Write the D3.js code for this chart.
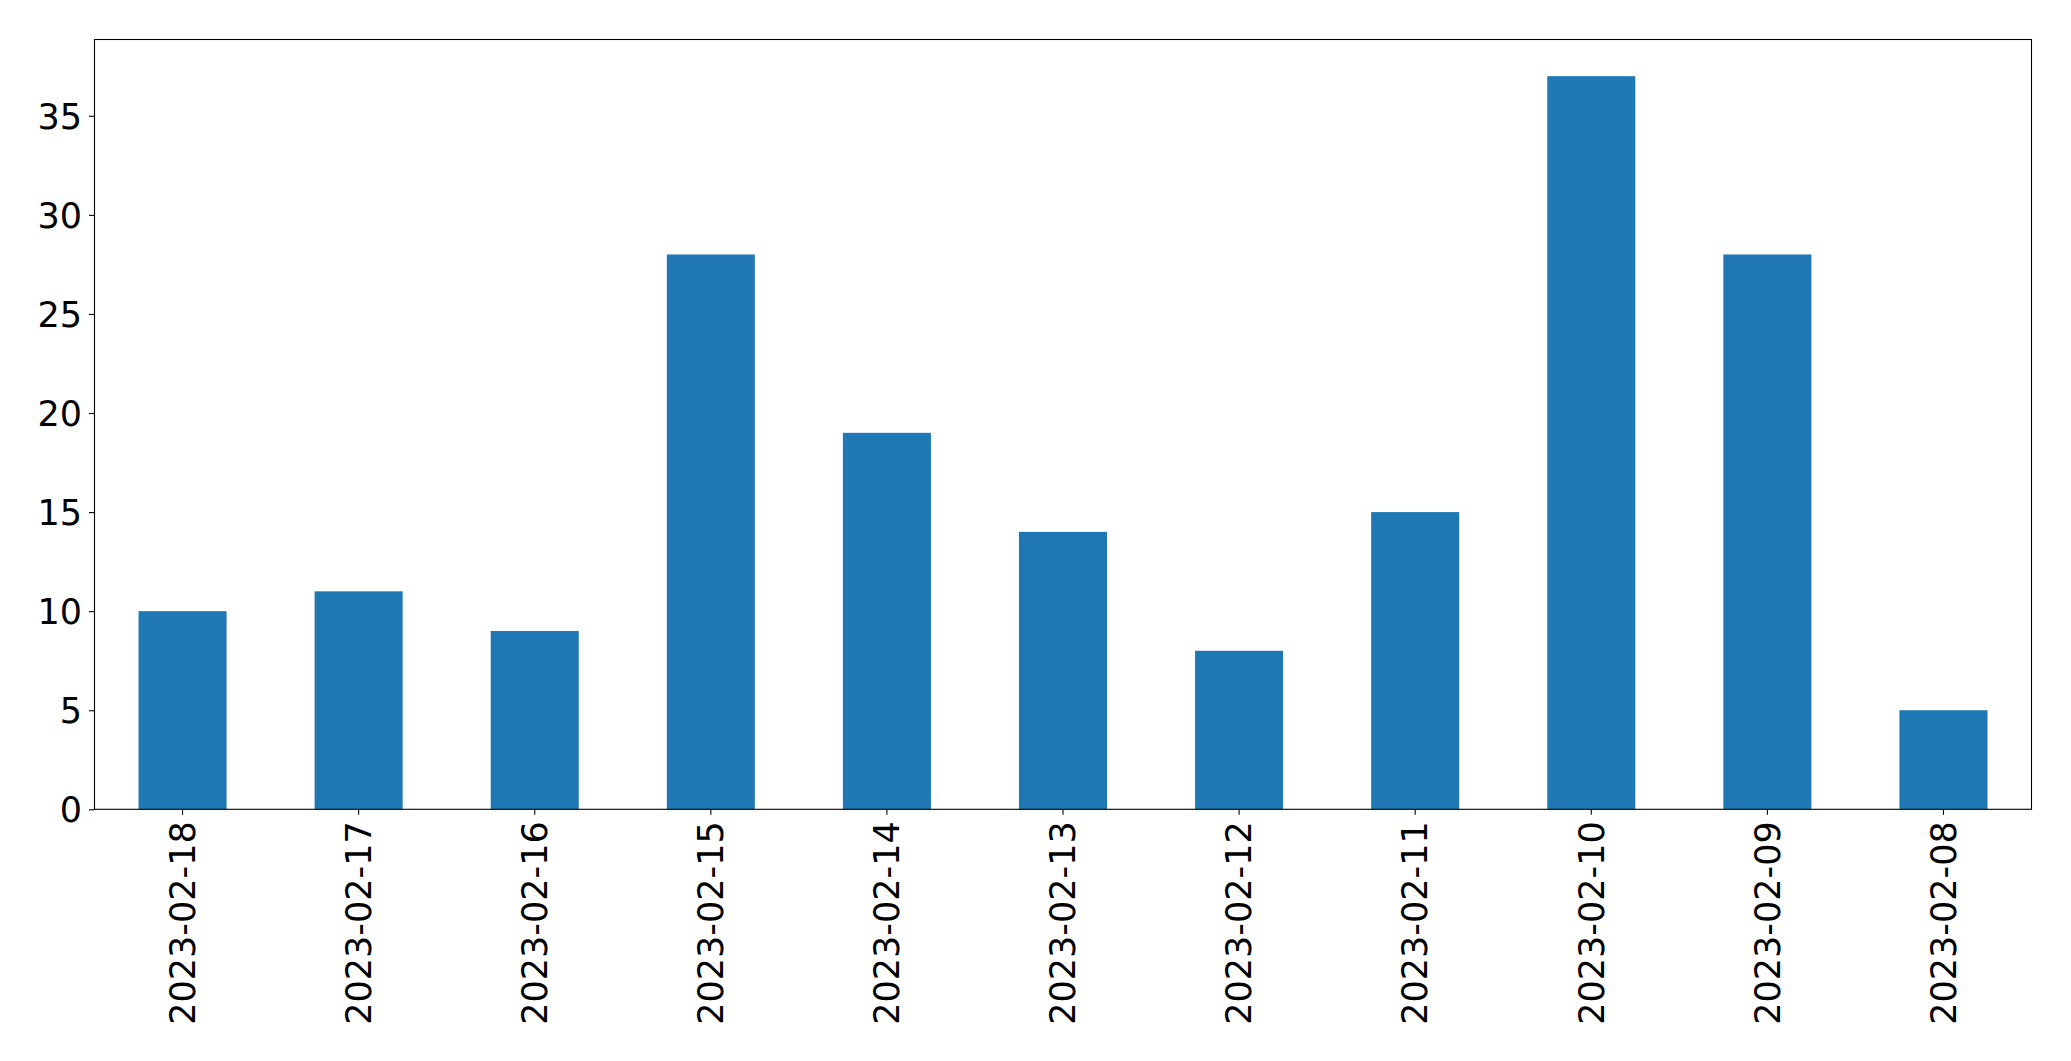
<!DOCTYPE html>
<html>
<head>
<meta charset="utf-8">
<script src="https://cdn.jsdelivr.net/npm/d3@7"></script>
<style>
  html, body { margin: 0; padding: 0; background: #fff; }
  svg { display: block; }
  text { font-family: "DejaVu Sans", sans-serif; fill: #000; }
</style>
</head>
<body>
<svg id="chart" width="2071" height="1061"></svg>
<script>
const categories = ["2023-02-18","2023-02-17","2023-02-16","2023-02-15","2023-02-14","2023-02-13","2023-02-12","2023-02-11","2023-02-10","2023-02-09","2023-02-08"];
const values = [10, 11, 9, 28, 19, 14, 8, 15, 37, 28, 5];
const yTicks = [0, 5, 10, 15, 20, 25, 30, 35];

const W = 2071, H = 1061;
const margin = {left: 94.5, right: W - 2031.5, top: 39.5, bottom: H - 809.3};
const svg = d3.select("#chart");
const iw = W - margin.left - margin.right;
const ih = H - margin.top - margin.bottom;
const g = svg.append("g").attr("transform", `translate(${margin.left},${margin.top})`);

const x = d3.scaleBand().domain(categories).range([0, iw]).paddingInner(0.5).paddingOuter(0.25);
const y = d3.scaleLinear().domain([0, d3.max(values) * 1.05]).range([ih, 0]);

g.selectAll("rect.bar").data(values).enter().append("rect")
  .attr("class", "bar")
  .attr("x", (d, i) => x(categories[i]))
  .attr("width", x.bandwidth())
  .attr("y", d => y(d))
  .attr("height", d => ih - y(d))
  .attr("fill", "#1f77b4");

const fs = 35;
const yAxis = g.append("g")
  .call(d3.axisLeft(y).tickValues(yTicks).tickSize(5.5).tickPadding(7).tickFormat(d3.format("d")));
yAxis.select(".domain").remove();
yAxis.selectAll("text").style("font-size", fs + "px").attr("dy", "0.35em");
yAxis.selectAll("line").attr("stroke", "#000").attr("stroke-width", 1.1);

const xAxis = g.append("g").attr("transform", `translate(0,${ih})`)
  .call(d3.axisBottom(x).tickSize(5.5).tickPadding(7));
xAxis.select(".domain").remove();
xAxis.selectAll("line").attr("stroke", "#000").attr("stroke-width", 1.1);
xAxis.selectAll("text")
  .style("font-size", fs + "px")
  .attr("text-anchor", "end")
  .attr("transform", "rotate(-90)")
  .attr("x", -12)
  .attr("y", 0)
  .attr("dy", "0.35em");

g.append("rect")
  .attr("x", 0).attr("y", 0).attr("width", iw).attr("height", ih)
  .attr("fill", "none").attr("stroke", "#000").attr("stroke-width", 1.1);
</script>
</body>
</html>
